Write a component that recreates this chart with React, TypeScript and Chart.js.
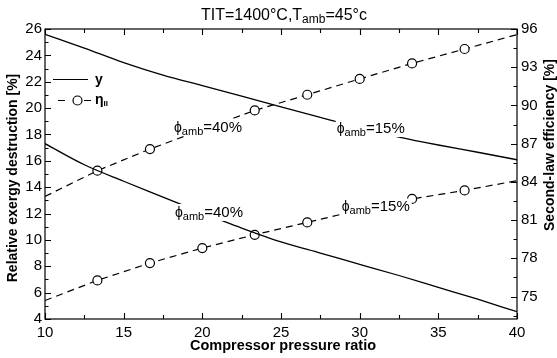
import { useEffect, useRef } from 'react';
import { Chart, registerables } from 'chart.js';

Chart.register(...registerables);

// ---------- data ----------
const solidX = [10, 12.5, 15, 17.5, 20, 22.5, 25, 27.5, 30, 32.5, 35, 37.5, 40];
// relative exergy destruction y [%], left axis
const yPhi15 = [25.6, 24.55, 23.45, 22.5, 21.7, 20.9, 20.1, 19.3, 18.5, 17.8, 17.2, 16.65, 16.08];
const yPhi40 = [17.3, 15.7, 14.45, 13.25, 12.05, 10.9, 9.85, 9.0, 8.15, 7.3, 6.4, 5.5, 4.55];

const markerX = [10, 13.33, 16.67, 20, 23.33, 26.67, 30, 33.33, 36.67, 40];
// second-law efficiency [%], right axis
const etaPhi40 = [82.86, 84.88, 86.58, 88.1, 89.61, 90.84, 92.08, 93.3, 94.43, 95.56];
const etaPhi15 = [74.69, 76.27, 77.63, 78.81, 79.85, 80.82, 81.8, 82.66, 83.33, 84.1];

const xTicks = [10, 15, 20, 25, 30, 35, 40];
const leftTicks = [4, 6, 8, 10, 12, 14, 16, 18, 20, 22, 24, 26];
const rightTicks = [75, 78, 81, 84, 87, 90, 93, 96];

const FONT = '"Liberation Sans", Arial, Helvetica, sans-serif';

type Part = { t: string; size: number; bold?: boolean; dy?: number };

function drawRich(ctx: CanvasRenderingContext2D, x: number, y: number, parts: Part[], draw = true) {
  let cx = x;
  ctx.textBaseline = 'alphabetic';
  ctx.textAlign = 'left';
  for (const p of parts) {
    ctx.font = `${p.bold ? 'bold ' : ''}${p.size}px ${FONT}`;
    if (draw) ctx.fillText(p.t, cx, y + (p.dy || 0));
    cx += ctx.measureText(p.t).width;
  }
  return cx - x;
}

const phiLabel = (v: string): Part[] => [
  { t: 'ϕ', size: 14 },
  { t: 'amb', size: 11, dy: 3 },
  { t: '=' + v + '%', size: 15 },
];

// annotations anchored in data coordinates (x, left-axis value of baseline)
const annotations = [
  { x: 18.2, y: 18.2, v: '40' },
  { x: 18.26, y: 11.74, v: '40' },
  { x: 28.54, y: 18.11, v: '15' },
  { x: 28.86, y: 12.16, v: '15' },
];

const overlay = {
  id: 'overlay',
  afterDraw(chart: any) {
    const { ctx, chartArea: a, scales } = chart;
    const sx = scales.x, sl = scales.yL, sr = scales.yR;
    ctx.save();
    // annotations with white background
    for (const an of annotations) {
      const px = sx.getPixelForValue(an.x);
      const py = sl.getPixelForValue(an.y);
      const parts = phiLabel(an.v);
      const w = drawRich(ctx, px, py, parts, false);
      ctx.fillStyle = '#fff';
      ctx.fillRect(px - 1, py - 13, w + 3, 17);
      ctx.fillStyle = '#000';
      drawRich(ctx, px, py, parts);
    }
    // frame
    ctx.strokeStyle = '#000';
    ctx.lineWidth = 1.2;
    ctx.strokeRect(a.left, a.top, a.right - a.left, a.bottom - a.top);
    // ticks (inward)
    ctx.lineWidth = 1.1;
    ctx.beginPath();
    for (let v = 10; v <= 40.001; v += 2.5) {
      const px = Math.round(sx.getPixelForValue(v)) + 0.5;
      const len = Math.abs(v % 5) < 0.01 ? 6 : 4;
      ctx.moveTo(px, a.bottom); ctx.lineTo(px, a.bottom - len);
      ctx.moveTo(px, a.top); ctx.lineTo(px, a.top + len);
    }
    for (let v = 4; v <= 26; v += 1) {
      const py = Math.round(sl.getPixelForValue(v)) + 0.5;
      const len = v % 2 === 0 ? 6 : 3.5;
      ctx.moveTo(a.left, py); ctx.lineTo(a.left + len, py);
    }
    for (let v = 73.5; v <= 96.001; v += 1.5) {
      const py = Math.round(sr.getPixelForValue(v)) + 0.5;
      const len = Math.abs((v - 75) % 3) < 0.01 ? 6 : 3.5;
      ctx.moveTo(a.right, py); ctx.lineTo(a.right - len, py);
    }
    ctx.stroke();
    // title
    ctx.fillStyle = '#000';
    const tparts: Part[] = [
      { t: 'TIT=1400°C,T', size: 16 },
      { t: 'amb', size: 12, dy: 3 },
      { t: '=45°c', size: 16 },
    ];
    const tw = drawRich(ctx, 0, 0, tparts, false);
    drawRich(ctx, (a.left + a.right) / 2 - tw / 2 + 3, 20, tparts);
    // axis titles
    ctx.font = `bold 14.5px ${FONT}`;
    ctx.textAlign = 'center';
    ctx.textBaseline = 'middle';
    ctx.fillText('Compressor pressure ratio', (a.left + a.right) / 2 + 2, 346);
    ctx.font = `bold 14px ${FONT}`;
    ctx.save();
    ctx.translate(13, (a.top + a.bottom) / 2 + 4);
    ctx.rotate(-Math.PI / 2);
    ctx.fillText('Relative exergy destruction [%]', 0, 0);
    ctx.restore();
    ctx.save();
    ctx.translate(550, 145);
    ctx.rotate(-Math.PI / 2);
    ctx.fillText('Second-law efficiency [%]', 0, 0);
    ctx.restore();
    // legend
    ctx.lineWidth = 1.2;
    ctx.beginPath();
    ctx.moveTo(53, 79.5); ctx.lineTo(88, 79.5);
    ctx.moveTo(58, 100.5); ctx.lineTo(65, 100.5);
    ctx.moveTo(84, 100.5); ctx.lineTo(91, 100.5);
    ctx.stroke();
    ctx.beginPath();
    ctx.fillStyle = '#fff';
    ctx.arc(77.5, 100.5, 4.5, 0, Math.PI * 2);
    ctx.fill();
    ctx.stroke();
    ctx.fillStyle = '#000';
    drawRich(ctx, 95, 84, [{ t: 'y', size: 14, bold: true }]);
    drawRich(ctx, 95, 104, [{ t: 'η', size: 14, bold: true }, { t: 'II', size: 8, bold: true, dy: 2 }]);
    ctx.restore();
  },
};

export default function App() {
  const ref = useRef<HTMLCanvasElement | null>(null);
  useEffect(() => {
    if (!ref.current) return;
    const solidStyle = {
      borderColor: '#000',
      borderWidth: 1.3,
      pointRadius: 0,
      fill: false,
      cubicInterpolationMode: 'monotone' as const,
      yAxisID: 'yL',
    };
    const markerRadius = markerX.map((_, i) => (i === 0 || i === markerX.length - 1 ? 0 : 4.5));
    const dashedStyle = {
      borderColor: '#000',
      borderWidth: 1.2,
      borderDash: [7, 5],
      pointRadius: markerRadius,
      pointBackgroundColor: '#fff',
      pointBorderColor: '#000',
      pointBorderWidth: 1.2,
      fill: false,
      yAxisID: 'yR',
    };
    const chart = new Chart(ref.current, {
      type: 'line',
      data: {
        datasets: [
          { ...solidStyle, label: 'y ϕ=15%', data: solidX.map((x, i) => ({ x, y: yPhi15[i] })) },
          { ...solidStyle, label: 'y ϕ=40%', data: solidX.map((x, i) => ({ x, y: yPhi40[i] })) },
          { ...dashedStyle, label: 'η ϕ=40%', data: markerX.map((x, i) => ({ x, y: etaPhi40[i] })) },
          { ...dashedStyle, label: 'η ϕ=15%', data: markerX.map((x, i) => ({ x, y: etaPhi15[i] })) },
        ],
      },
      options: {
        animation: false,
        responsive: true,
        maintainAspectRatio: false,
        layout: { padding: { top: 29, left: 0, right: 0, bottom: 0 } },
        plugins: { legend: { display: false }, tooltip: { enabled: false }, title: { display: false } },
        scales: {
          x: {
            type: 'linear',
            min: 10,
            max: 40,
            grid: { display: false, drawTicks: false },
            border: { display: false },
            afterBuildTicks: (s: any) => { s.ticks = xTicks.map((v) => ({ value: v })); },
            afterFit: (s: any) => { s.height = 39; },
            ticks: { color: '#000', padding: 5, font: { family: FONT, size: 15 }, maxRotation: 0 },
          },
          yL: {
            type: 'linear',
            position: 'left',
            min: 4,
            max: 26,
            grid: { display: false, drawTicks: false },
            border: { display: false },
            afterBuildTicks: (s: any) => { s.ticks = leftTicks.map((v) => ({ value: v })); },
            afterFit: (s: any) => { s.width = 45; },
            ticks: { color: '#000', padding: 3, font: { family: FONT, size: 15 } },
          },
          yR: {
            type: 'linear',
            position: 'right',
            min: 73.24,
            max: 96,
            grid: { display: false, drawTicks: false },
            border: { display: false },
            afterBuildTicks: (s: any) => { s.ticks = rightTicks.map((v) => ({ value: v })); },
            afterFit: (s: any) => { s.width = 40; },
            ticks: { color: '#000', padding: 4, font: { family: FONT, size: 15 } },
          },
        },
      },
      plugins: [overlay],
    } as any);
    return () => chart.destroy();
  }, []);
  return (
    <div style={{ position: 'fixed', left: 0, top: 0, width: 557, height: 358, background: '#fff' }}>
      <canvas ref={ref} />
    </div>
  );
}
